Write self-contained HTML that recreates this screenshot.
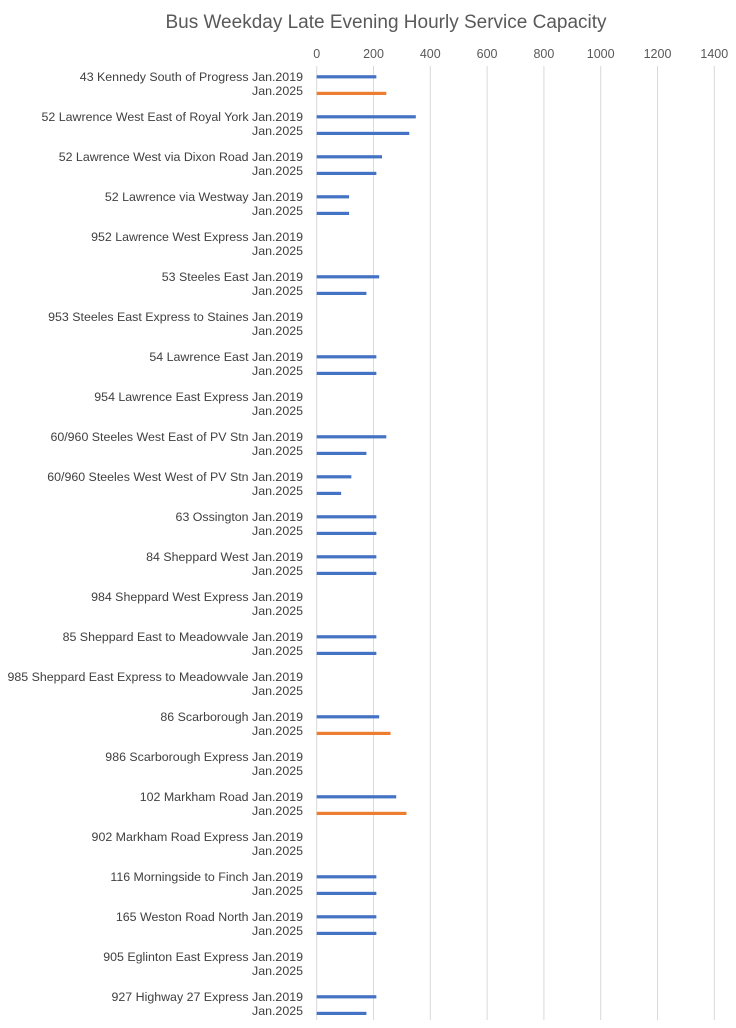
<!DOCTYPE html>
<html><head><meta charset="utf-8"><style>
body{margin:0;background:#fff;font-family:"Liberation Sans",sans-serif;}
svg text{font-family:"Liberation Sans",sans-serif;}
</style></head><body>
<svg id="chart" width="736" height="1023">
<text x="386" y="28" text-anchor="middle" font-size="19" fill="#595959">Bus Weekday Late Evening Hourly Service Capacity</text>
</svg>
<script>
const routes=["43 Kennedy South of Progress","52 Lawrence West East of Royal York","52 Lawrence West via Dixon Road","52 Lawrence via Westway","952 Lawrence West Express","53 Steeles East","953 Steeles East Express to Staines","54 Lawrence East","954 Lawrence East Express","60/960 Steeles West East of PV Stn","60/960 Steeles West West of PV Stn","63 Ossington","84 Sheppard West","984 Sheppard West Express","85 Sheppard East to Meadowvale","985 Sheppard East Express to Meadowvale","86 Scarborough","986 Scarborough Express","102 Markham Road","902 Markham Road Express","116 Morningside to Finch","165 Weston Road North","905 Eglinton East Express","927 Highway 27 Express"];
const v2019=[210,349,230,114,0,220,0,210,0,245,122,210,210,0,210,0,220,0,280,0,210,210,0,210];
const v2025=[245,326,210,114,0,175,0,210,0,175,86,210,210,0,210,0,260,0,316,0,210,210,0,175];
const highlight2025=[1,0,0,0,0,0,0,0,0,0,0,0,0,0,0,0,1,0,1,0,0,0,0,0];
const ticks=[0,200,400,600,800,1000,1200,1400];
const svg=document.getElementById('chart');
const NS='http://www.w3.org/2000/svg';
const x0=316.7,pxPer=56.8/200;
const xs=v=>x0+v*pxPer;
const gy=i=>76.7+i*40;
function mk(t,a){const e=document.createElementNS(NS,t);for(const k in a)e.setAttribute(k,a[k]);svg.appendChild(e);return e;}
ticks.forEach(t=>{
 const l=mk('line',{x1:xs(t),x2:xs(t),y1:66,y2:1020,stroke:'#d9d9d9','stroke-width':1});
 
 
 const tx=mk('text',{x:xs(t),y:58,'text-anchor':'middle','font-size':12.5,fill:'#595959'});
 tx.textContent=t;
 
 
});
routes.forEach((r,i)=>{
 const y=gy(i);
 const t1=mk('text',{x:303,y:y+4.5,'text-anchor':'end','font-size':12.4,fill:'#404040'});
 t1.textContent=r+' Jan.2019';
 
 
 const t2=mk('text',{x:303,y:y+18.5,'text-anchor':'end','font-size':12.4,fill:'#404040'});
 t2.textContent='Jan.2025';
 
 
 if(v2019[i]>0){const b=mk('rect',{x:x0,y:y-1.5,width:xs(v2019[i])-x0,height:3.2,fill:'#4472c4'});
  
  }
 if(v2025[i]>0){const b=mk('rect',{x:x0,y:y+15.1,width:xs(v2025[i])-x0,height:3.2,fill:highlight2025[i]?'#ed7d31':'#4472c4'});
  
  }
});
</script>
</body></html>
